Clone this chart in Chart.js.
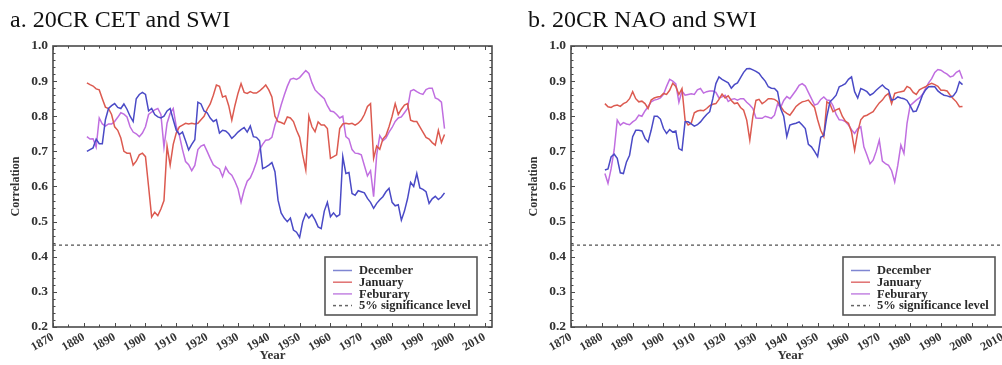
<!DOCTYPE html>
<html>
<head>
<meta charset="utf-8">
<script src="https://cdn.jsdelivr.net/npm/chart.js@4.4.1/dist/chart.umd.min.js"></script>
<style>
  html, body { margin: 0; padding: 0; background: #fff; width: 1002px; height: 365px; overflow: hidden; }
  #wrap { position: relative; width: 1002px; height: 365px; overflow: hidden; }
  canvas { position: absolute; top: 0; }
  .ttl { position: absolute; top: 7px; font-family: "Liberation Serif", "Times New Roman", serif; font-size: 24px; line-height: 24px; color: #111; white-space: nowrap; }
</style>
</head>
<body>
<div id="wrap">
  <canvas id="cA" width="500" height="365" style="left:0px"></canvas>
  <canvas id="cB" width="520" height="365" style="left:500px"></canvas>
  <div class="ttl" style="left:10px">a. 20CR CET and SWI</div>
  <div class="ttl" style="left:528px">b. 20CR NAO and SWI</div>
</div>
<script>
// ---------------- DATA ----------------
const years = [1881,1882,1883,1884,1885,1886,1887,1888,1889,1890,1891,1892,1893,1894,1895,1896,1897,1898,1899,1900,
1901,1902,1903,1904,1905,1906,1907,1908,1909,1910,1911,1912,1913,1914,1915,1916,1917,1918,1919,1920,
1921,1922,1923,1924,1925,1926,1927,1928,1929,1930,1931,1932,1933,1934,1935,1936,1937,1938,1939,1940,
1941,1942,1943,1944,1945,1946,1947,1948,1949,1950,1951,1952,1953,1954,1955,1956,1957,1958,1959,1960,
1961,1962,1963,1964,1965,1966,1967,1968,1969,1970,1971,1972,1973,1974,1975,1976,1977,1978,1979,1980,
1981,1982,1983,1984,1985,1986,1987,1988,1989,1990,1991,1992,1993,1994,1995,1996,1997];

const seriesNames = ["December", "January", "Feburary"];
const sigLabel = "5% significance level";
const sigLevel = 0.433;

// Panel a: 20CR CET and SWI
const cetDecember = [0.700,0.705,0.710,0.735,0.722,0.722,0.790,0.822,0.830,0.836,0.825,0.822,0.835,0.820,0.800,0.785,0.850,0.862,0.868,0.862,
0.815,0.822,0.805,0.798,0.795,0.800,0.815,0.822,0.790,0.760,0.748,0.755,0.730,0.704,0.720,0.733,0.840,0.835,0.815,0.810,
0.795,0.785,0.790,0.752,0.760,0.758,0.750,0.737,0.745,0.755,0.762,0.768,0.755,0.772,0.742,0.740,0.730,0.651,0.655,0.661,
0.668,0.642,0.561,0.525,0.510,0.500,0.510,0.476,0.470,0.455,0.500,0.523,0.510,0.520,0.505,0.485,0.480,0.530,0.555,0.514,
0.525,0.514,0.520,0.685,0.637,0.640,0.580,0.575,0.588,0.585,0.582,0.566,0.555,0.538,0.552,0.562,0.571,0.585,0.595,0.555,
0.545,0.548,0.504,0.530,0.565,0.612,0.600,0.637,0.596,0.592,0.585,0.552,0.565,0.572,0.563,0.570,0.582];
const cetJanuary = [0.895,0.890,0.886,0.878,0.875,0.850,0.826,0.822,0.805,0.770,0.760,0.738,0.700,0.695,0.695,0.661,0.672,0.690,0.695,0.685,
0.600,0.513,0.527,0.517,0.536,0.560,0.715,0.661,0.720,0.753,0.770,0.775,0.780,0.778,0.780,0.778,0.780,0.790,0.800,0.820,
0.835,0.860,0.889,0.885,0.855,0.858,0.830,0.789,0.830,0.865,0.893,0.868,0.865,0.870,0.866,0.866,0.872,0.880,0.889,0.875,
0.855,0.800,0.785,0.782,0.778,0.798,0.795,0.785,0.760,0.740,0.690,0.647,0.800,0.770,0.756,0.784,0.775,0.775,0.765,0.680,
0.685,0.690,0.765,0.778,0.780,0.778,0.780,0.775,0.780,0.789,0.805,0.828,0.836,0.680,0.715,0.706,0.735,0.745,0.770,0.800,
0.836,0.805,0.820,0.832,0.836,0.789,0.785,0.785,0.770,0.755,0.740,0.735,0.725,0.718,0.760,0.725,0.748];
const cetFebruary = [0.742,0.735,0.736,0.712,0.795,0.778,0.772,0.778,0.778,0.785,0.797,0.810,0.806,0.798,0.770,0.755,0.750,0.742,0.752,0.770,
0.805,0.812,0.818,0.822,0.805,0.712,0.780,0.808,0.822,0.770,0.745,0.705,0.671,0.662,0.645,0.660,0.705,0.715,0.719,0.700,
0.680,0.662,0.655,0.650,0.628,0.655,0.640,0.632,0.615,0.594,0.555,0.590,0.615,0.625,0.645,0.670,0.705,0.720,0.732,0.733,
0.740,0.775,0.800,0.832,0.860,0.885,0.905,0.908,0.905,0.910,0.920,0.930,0.922,0.895,0.875,0.866,0.858,0.850,0.830,0.815,
0.813,0.805,0.795,0.800,0.742,0.735,0.705,0.695,0.694,0.690,0.660,0.630,0.645,0.571,0.690,0.745,0.730,0.738,0.755,0.768,
0.785,0.795,0.798,0.810,0.822,0.872,0.876,0.870,0.865,0.862,0.876,0.880,0.880,0.852,0.848,0.840,0.765];

// Panel b: 20CR NAO and SWI
const naoDecember = [0.647,0.650,0.684,0.692,0.680,0.639,0.637,0.670,0.689,0.742,0.760,0.760,0.758,0.737,0.727,0.760,0.800,0.800,0.792,0.765,
0.751,0.762,0.755,0.758,0.708,0.703,0.784,0.784,0.778,0.772,0.776,0.784,0.795,0.805,0.813,0.850,0.893,0.912,0.905,0.900,
0.895,0.880,0.890,0.895,0.910,0.925,0.935,0.936,0.932,0.928,0.922,0.910,0.900,0.884,0.880,0.879,0.870,0.822,0.800,0.742,
0.775,0.778,0.780,0.784,0.775,0.765,0.720,0.713,0.700,0.685,0.740,0.745,0.800,0.841,0.850,0.860,0.884,0.888,0.893,0.905,
0.912,0.870,0.852,0.879,0.875,0.870,0.860,0.865,0.874,0.882,0.889,0.880,0.875,0.846,0.848,0.855,0.852,0.850,0.845,0.830,
0.813,0.815,0.836,0.860,0.875,0.884,0.885,0.884,0.872,0.865,0.860,0.858,0.855,0.858,0.870,0.898,0.890];
const naoJanuary = [0.836,0.827,0.825,0.830,0.832,0.828,0.836,0.840,0.850,0.870,0.850,0.841,0.843,0.836,0.822,0.846,0.852,0.855,0.856,0.865,
0.862,0.874,0.894,0.885,0.862,0.879,0.789,0.775,0.780,0.810,0.815,0.817,0.816,0.822,0.830,0.834,0.836,0.848,0.863,0.852,
0.858,0.845,0.836,0.838,0.825,0.817,0.789,0.732,0.800,0.845,0.848,0.836,0.842,0.850,0.850,0.848,0.842,0.828,0.815,0.808,
0.803,0.815,0.828,0.835,0.841,0.843,0.846,0.835,0.825,0.790,0.760,0.742,0.841,0.835,0.813,0.818,0.822,0.800,0.786,0.780,
0.755,0.703,0.755,0.790,0.800,0.803,0.808,0.813,0.826,0.838,0.846,0.858,0.865,0.836,0.865,0.868,0.870,0.872,0.885,0.880,
0.868,0.862,0.875,0.880,0.884,0.890,0.894,0.890,0.885,0.874,0.874,0.872,0.860,0.850,0.841,0.827,0.828];
const naoFebruary = [0.637,0.609,0.650,0.704,0.789,0.775,0.782,0.778,0.776,0.784,0.790,0.803,0.800,0.815,0.827,0.841,0.846,0.848,0.852,0.862,
0.885,0.905,0.900,0.892,0.840,0.872,0.860,0.862,0.864,0.862,0.875,0.879,0.866,0.870,0.872,0.872,0.868,0.852,0.855,0.860,
0.842,0.848,0.850,0.846,0.850,0.850,0.840,0.832,0.822,0.795,0.794,0.794,0.800,0.797,0.794,0.803,0.835,0.825,0.845,0.856,
0.850,0.862,0.874,0.888,0.893,0.886,0.868,0.850,0.832,0.835,0.848,0.855,0.846,0.845,0.830,0.805,0.790,0.789,0.785,0.775,
0.762,0.751,0.765,0.770,0.713,0.690,0.665,0.675,0.700,0.732,0.672,0.665,0.660,0.645,0.613,0.660,0.718,0.694,0.780,0.830,
0.838,0.846,0.852,0.862,0.879,0.895,0.907,0.925,0.933,0.931,0.925,0.920,0.912,0.915,0.925,0.930,0.907];

const xTickLabels = [1870,1880,1890,1900,1910,1920,1930,1940,1950,1960,1970,1980,1990,2000,2010];
const yTickLabels = [0.2,0.3,0.4,0.5,0.6,0.7,0.8,0.9,1.0];
const xRange = [1870, 2012.4];
const yRange = [0.2, 1.0];

// ---------------- STYLE ----------------
const COLORS = ["#4a4ac6", "#dc5a50", "#c06ee0"];
const LEGEND_COLORS = ["#7f86d2", "#e07070", "#c384e2"];
const AXIS_COLOR = "#4a4a4a";
const SERIF = "'Liberation Serif', 'Times New Roman', serif";
const XTICK_FONT = { family: SERIF, size: 12, weight: "bold" };
const YTICK_FONT = { family: SERIF, size: 13.5, weight: "bold" };

function pts(vals) { return vals.map((v, i) => ({ x: years[i], y: v })); }

const framePlugin = {
  id: 'frame',
  afterDatasetsDraw(chart) {
    const { ctx, chartArea: a, scales: { x, y } } = chart;
    ctx.save();
    ctx.strokeStyle = AXIS_COLOR;
    ctx.lineWidth = 1;
    ctx.beginPath();
    for (let v = xRange[0]; v <= xRange[1] + 1e-6; v += 5) {
      const px = Math.round(x.getPixelForValue(v)) + 0.5;
      const len = (v % 10 === 0) ? 4 : 2.5;
      ctx.moveTo(px, a.bottom); ctx.lineTo(px, a.bottom - len);
      ctx.moveTo(px, a.top); ctx.lineTo(px, a.top + len);
    }
    for (let k = 0; k <= 40; k++) {
      const v = yRange[0] + k * 0.02;
      const py = Math.round(y.getPixelForValue(v)) + 0.5;
      const len = (k % 5 === 0) ? 4 : 2.5;
      ctx.moveTo(a.left, py); ctx.lineTo(a.left + len, py);
      ctx.moveTo(a.right, py); ctx.lineTo(a.right - len, py);
    }
    ctx.stroke();
    ctx.lineWidth = 1.6;
    ctx.strokeRect(a.left, a.top, a.right - a.left, a.bottom - a.top);
    ctx.restore();
  }
};

const boxLegendPlugin = {
  id: 'boxLegend',
  afterDraw(chart, args, opts) {
    const { ctx, chartArea: a } = chart;
    const w = 152, h = 58;
    const left = a.right - opts.right - w, top = a.bottom - opts.bottom - h;
    ctx.save();
    ctx.fillStyle = '#fff';
    ctx.fillRect(left, top, w, h);
    ctx.strokeStyle = '#555';
    ctx.lineWidth = 1.6;
    ctx.strokeRect(left, top, w, h);
    ctx.font = "bold 12.5px " + SERIF;
    ctx.textBaseline = 'middle';
    chart.data.datasets.forEach((ds, i) => {
      const yy = top + 13.5 + i * 11.7;
      ctx.strokeStyle = ds.legendColor;
      ctx.lineWidth = 1.5;
      ctx.setLineDash(ds.borderDash || []);
      ctx.beginPath();
      ctx.moveTo(left + 8, yy); ctx.lineTo(left + 27, yy);
      ctx.stroke();
      ctx.setLineDash([]);
      ctx.fillStyle = '#2a2a2a';
      ctx.fillText(ds.label, left + 34, yy + 0.5);
    });
    ctx.restore();
  }
};

function makeChart(canvasId, dec, jan, feb, leftW, rightPad, yTitlePad) {
  const datasets = [dec, jan, feb].map((vals, i) => ({
    label: seriesNames[i],
    data: pts(vals),
    borderColor: COLORS[i],
    legendColor: LEGEND_COLORS[i],
    borderWidth: 1.5,
    pointRadius: 0,
    tension: 0,
    fill: false
  }));
  datasets.push({
    label: sigLabel,
    data: [{ x: xRange[0], y: sigLevel }, { x: xRange[1], y: sigLevel }],
    borderColor: '#777',
    legendColor: '#666',
    borderWidth: 1.6,
    borderDash: [3, 3],
    pointRadius: 0
  });
  return new Chart(document.getElementById(canvasId), {
    type: 'line',
    data: { datasets },
    plugins: [framePlugin, boxLegendPlugin],
    options: {
      responsive: false,
      animation: false,
      devicePixelRatio: 1,
      layout: { padding: { left: 0, right: rightPad, top: 46, bottom: 0 } },
      plugins: {
        legend: { display: false },
        tooltip: { enabled: false },
        boxLegend: { right: 15, bottom: 12 }
      },
      scales: {
        x: {
          type: 'linear',
          min: xRange[0], max: xRange[1],
          afterBuildTicks: (s) => { s.ticks = xTickLabels.map(v => ({ value: v })); },
          afterFit: (s) => { s.height = 38; s.paddingLeft = 0; s.paddingRight = 0; },
          grid: { display: false, drawTicks: false },
          border: { display: false },
          ticks: {
            font: XTICK_FONT, color: '#333', padding: 3,
            minRotation: 30, maxRotation: 30, autoSkip: false,
            callback: (v) => String(v)
          },
          title: {
            display: true, text: 'Year', color: '#333',
            font: { family: SERIF, size: 13, weight: 'bold' },
            padding: { top: 0, bottom: 2 }
          }
        },
        y: {
          min: yRange[0], max: yRange[1],
          afterBuildTicks: (s) => { s.ticks = yTickLabels.map(v => ({ value: v })); },
          afterFit: (s) => { s.width = leftW; s.paddingTop = 0; s.paddingBottom = 0; },
          grid: { display: false, drawTicks: false },
          border: { display: false },
          ticks: {
            font: YTICK_FONT, color: '#333', padding: 5,
            callback: (v) => Number(v).toFixed(1)
          },
          title: {
            display: true, text: 'Correlation', color: '#333',
            font: { family: SERIF, size: 12, weight: 'bold' },
            padding: { top: yTitlePad, bottom: 4 }
          }
        }
      }
    }
  });
}

makeChart('cA', cetDecember, cetJanuary, cetFebruary, 53, 8, 9);
makeChart('cB', naoDecember, naoJanuary, naoFebruary, 71, 10, 27);
</script>
</body>
</html>
